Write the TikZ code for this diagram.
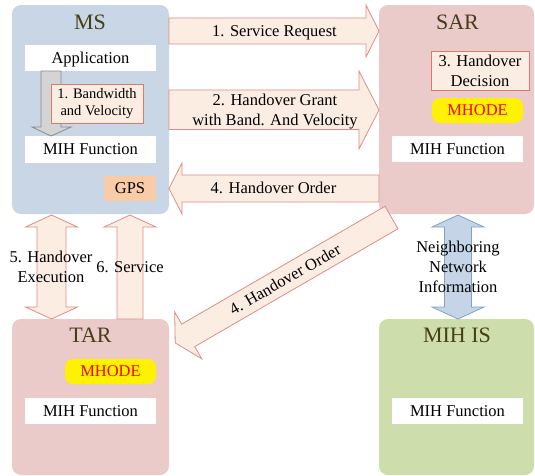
\documentclass[tikz,border=0pt]{standalone}
\usepackage{fontspec}
\setmainfont{Liberation Serif}
\definecolor{msblue}{HTML}{C9D6E6}
\definecolor{arpink}{HTML}{EBCACA}
\definecolor{isgreen}{HTML}{CDDDAC}
\definecolor{arrfill}{HTML}{FCEDE3}
\definecolor{arrline}{HTML}{DE8C86}
\definecolor{noteline}{HTML}{D97A72}
\definecolor{gpsfill}{HTML}{F9CBA7}
\definecolor{bluearr}{HTML}{C5D5E7}
\definecolor{bluearrline}{HTML}{7EA1CC}
\definecolor{titlecol}{HTML}{453E1A}
\definecolor{grayfill}{HTML}{D4D4D4}
\definecolor{grayline}{HTML}{8A8A8A}
\begin{document}
\begin{tikzpicture}[x=1pt,y=-1pt,
  bigbox/.style={draw=none, rounded corners=9pt, inner sep=0pt},
  ttl/.style={font=\fontsize{22}{26}\selectfont, text=titlecol, anchor=base, inner sep=0pt},
  lab/.style={font=\fontsize{16.5}{20}\selectfont, inner sep=0pt, align=center},
  one/.style={text height=10.9pt, text depth=0pt},
  whitebox/.style={fill=white, inner sep=0pt, font=\fontsize{16.5}{19.5}\selectfont, text height=10.9pt, text depth=0pt, minimum width=131pt},
  notebox/.style={fill=arrfill, draw=noteline, line width=0.8pt, inner sep=0pt, align=center},
  mhode/.style={fill=yellow, rounded corners=8pt, text=red, inner sep=0pt, font=\fontsize{16.5}{19.5}\selectfont, text height=10.9pt, text depth=0pt, minimum width=91pt, minimum height=25pt},
  blockarrow/.style={draw=arrline, fill=arrfill, line width=0.8pt},
  bluearrow/.style={draw=bluearrline, fill=bluearr, line width=0.8pt},
  grayarrow/.style={draw=grayline, fill=grayfill, line width=0.8pt}
]
\useasboundingbox (0,0) rectangle (535,475);

% big boxes
\node[bigbox, fill=msblue, minimum width=157pt, minimum height=209pt] (ms) at (90.5,109.5) {};
\node[bigbox, fill=arpink, minimum width=155pt, minimum height=209pt] (sar) at (456.5,109.5) {};
\node[bigbox, fill=arpink, minimum width=157pt, minimum height=156pt] (tar) at (90.5,397) {};
\node[bigbox, fill=isgreen, minimum width=155pt, minimum height=156pt] (mihis) at (456.5,397) {};

% titles
\node[ttl] (mst) at (90,29.5) {MS};
\node[ttl] (sart) at (457.5,29.5) {SAR};
\node[ttl] (tart) at (90.5,342.7) {TAR};
\node[ttl] (mihist) at (457,342.7) {MIH IS};

% MS contents
\node[whitebox, minimum height=26pt] (msapp) at (90.5,58) {Application};
\node[whitebox, minimum height=27pt] (msmih) at (90.5,149.5) {MIH Function};
\draw[grayarrow] (41,71) -- (61,71) -- (61,127) -- (71,127) -- (51,136) -- (32,127) -- (41,127) -- cycle;
\node[notebox, font=\fontsize{14.5}{17.7}\selectfont, minimum width=92pt, minimum height=39pt] (bw) at (97,103.5) {1. Bandwidth\\and Velocity};
\node[fill=gpsfill, inner sep=0pt, font=\fontsize{16.5}{19.5}\selectfont, text height=10.9pt, text depth=0pt, minimum width=52pt, minimum height=25pt] (gps) at (130,188.5) {GPS};

% SAR contents
\node[notebox, font=\fontsize{16.5}{20}\selectfont, minimum width=98pt, minimum height=39pt] (dec) at (480,70.5) {3. Handover\\Decision};
\node[mhode] (sarmh) at (477.5,110.5) {MHODE};
\node[whitebox, minimum height=26pt] (sarmih) at (457.5,149) {MIH Function};

% TAR contents
\node[mhode] (tarmh) at (110.5,371.5) {MHODE};
\node[whitebox, minimum height=26pt] (tarmih) at (90.5,411) {MIH Function};

% MIH IS contents
\node[whitebox, minimum height=26pt] (ismih) at (457.5,411) {MIH Function};

% 1. Service Request
\draw[blockarrow] (169,18) -- (366,18) -- (366,5) -- (379,31) -- (366,57) -- (366,44) -- (169,44) -- cycle;
\node[lab, one] (l1) at (274.5,31) {1. Service Request};

% 2. Handover Grant
\draw[blockarrow] (169,90) -- (359,90) -- (359,71) -- (379,110) -- (359,149) -- (359,129.5) -- (169,129.5) -- cycle;
\node[lab] (l2) at (275,111.1) {2. Handover Grant\\with Band. And Velocity};

% 4. Handover Order (to MS)
\draw[blockarrow] (379,175) -- (182,175) -- (182,163) -- (169,188.5) -- (182,214) -- (182,202) -- (379,202) -- cycle;
\node[lab, one] (l4) at (273.5,188) {4. Handover Order};

% 4. Handover Order (diagonal to TAR)
\begin{scope}[shift={(391.5,217.5)}, rotate=210.1]
\draw[blockarrow] (0,13) -- (235,13) -- (235,27) -- (250,0) -- (235,-27) -- (235,-13) -- (0,-13) -- cycle;
\end{scope}
\node[lab, one, rotate=30.1] (l4b) at (285,279.5) {4. Handover Order};

% 5. Handover Execution (double)
\draw[blockarrow] (51.5,215) -- (77.5,227) -- (66,227) -- (66,307) -- (77.5,307) -- (51.5,319) -- (25.5,307) -- (37,307) -- (37,227) -- (25.5,227) -- cycle;
% 6. Service (up)
\draw[blockarrow] (130,215) -- (156,227) -- (143,227) -- (143,319) -- (117,319) -- (117,227) -- (104,227) -- cycle;
\node[lab] (l5) at (51,267) {5. Handover\\Execution};
\node[lab, one] (l6) at (130,267) {6. Service};

% Neighboring Network Information (double, blue)
\draw[bluearrow] (458,215) -- (484,227) -- (471.5,227) -- (471.5,307) -- (484,307) -- (458,319) -- (432,307) -- (444.5,307) -- (444.5,227) -- (432,227) -- cycle;
\node[lab] (l7) at (458,267) {Neighboring\\Network\\Information};
\end{tikzpicture}
\end{document}
